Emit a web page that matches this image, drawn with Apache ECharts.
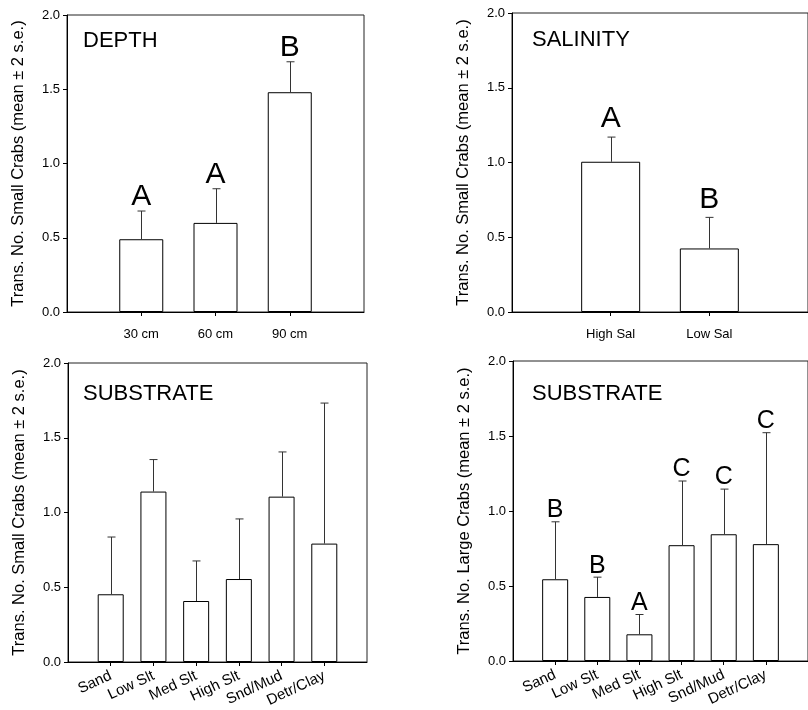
<!DOCTYPE html>
<html>
<head>
    <meta charset="utf-8">
    <title>Crab transects</title>
    <script src="https://cdn.jsdelivr.net/npm/echarts@6.0.0/dist/echarts.min.js"></script>
    <style>
        html, body { margin: 0; padding: 0; background: #fff; }
        #main { width: 808px; height: 710px; }
    </style>
</head>
<body>
    <div id="main"></div>
    <script type="text/javascript">
        // data
        var depthCats = ['30 cm', '60 cm', '90 cm'];
        var depthMean = [0.49, 0.60, 1.48];
        var depthErr = [0.68, 0.83, 1.685];
        var depthLetters = ['A', 'A', 'B'];

        var salCats = ['High Sal', 'Low Sal'];
        var salMean = [1.005, 0.425];
        var salErr = [1.17, 0.633];
        var salLetters = ['A', 'B'];

        var subCats = ['Sand', 'Low Slt', 'Med Slt', 'High Slt', 'Snd/Mud', 'Detr/Clay'];
        var smallMean = [0.453, 1.14, 0.408, 0.555, 1.106, 0.792];
        var smallErr = [0.836, 1.354, 0.676, 0.957, 1.405, 1.732];

        var largeMean = [0.545, 0.427, 0.178, 0.772, 0.845, 0.779];
        var largeErr = [0.928, 0.559, 0.31, 1.20, 1.146, 1.522];
        var largeLetters = ['B', 'B', 'A', 'C', 'C', 'C'];

        var yTicks = [0, 0.5, 1.0, 1.5, 2.0];

        var FONT = 'Liberation Sans, Arial, sans-serif';

        // layout of the four panels
        var panels = [
            { cats: depthCats, mean: depthMean, err: depthErr, letters: depthLetters,
              left: 67, top: 15, width: 297, height: 297, barWidth: 44, letterSize: 30, letterGap: 1,
              title: 'DEPTH', titleLeft: 83, titleTop: 30, rotate: 0, margin: 16, labelSize: 13,
              yName: 'Trans. No. Small Crabs (mean \u00b1 2 s.e.)' },
            { cats: salCats, mean: salMean, err: salErr, letters: salLetters,
              left: 512, top: 13, width: 300, height: 299, barWidth: 59, letterSize: 30, letterGap: 5,
              title: 'SALINITY', titleLeft: 532, titleTop: 29, rotate: 0, margin: 16, labelSize: 13,
              yName: 'Trans. No. Small Crabs (mean \u00b1 2 s.e.)' },
            { cats: subCats, mean: smallMean, err: smallErr, letters: null,
              left: 68, top: 363, width: 299, height: 299, barWidth: 26, letterSize: 24, letterGap: 1,
              title: 'SUBSTRATE', titleLeft: 83, titleTop: 383, rotate: 25, margin: 13, labelSize: 15,
              yName: 'Trans. No. Small Crabs (mean \u00b1 2 s.e.)' },
            { cats: subCats, mean: largeMean, err: largeErr, letters: largeLetters,
              left: 513, top: 361, width: 299, height: 300, barWidth: 26, letterSize: 25, letterGap: 1,
              title: 'SUBSTRATE', titleLeft: 532, titleTop: 383, rotate: 25, margin: 13, labelSize: 15,
              yName: 'Trans. No. Large Crabs (mean \u00b1 2 s.e.)' }
        ];

        function errRenderer(letters, size, gap) {
            return function (params, api) {
                var i = params.dataIndex;
                var base = api.coord([api.value(0), api.value(1)]);
                var top = api.coord([api.value(0), api.value(2)]);
                var x = Math.round(top[0]) + 0.5;
                var children = [
                    { type: 'line', shape: { x1: x, y1: base[1], x2: x, y2: top[1] },
                      style: { stroke: '#333', lineWidth: 1 } },
                    { type: 'line', shape: { x1: x - 4, y1: top[1], x2: x + 4, y2: top[1] },
                      style: { stroke: '#333', lineWidth: 1 } }
                ];
                if (letters) {
                    children.push({
                        type: 'text', x: top[0], y: top[1] + 2 - gap,
                        style: { text: letters[i], font: size + 'px ' + FONT, fill: '#000',
                                 align: 'center', verticalAlign: 'bottom',
                                 textAlign: 'center', textVerticalAlign: 'bottom' }
                    });
                }
                return { type: 'group', children: children };
            };
        }

        var grids = [], xAxes = [], yAxes = [], series = [], titles = [];

        panels.forEach(function (p, k) {
            var cats = p.cats;
            var pos = cats.map(function (c, i) { return i + 1; });
            grids.push({
                left: p.left, top: p.top, width: p.width, height: p.height,
                show: true, borderColor: '#222', borderWidth: 1, backgroundColor: 'transparent'
            });
            xAxes.push({
                gridIndex: k, type: 'value', min: 0, max: cats.length + 1, interval: 1,
                splitLine: { show: false },
                axisLine: { lineStyle: { color: '#000', width: 1 } },
                axisTick: { length: 4, lineStyle: { color: '#000' }, customValues: pos },
                axisLabel: {
                    customValues: pos,
                    formatter: function (v) { return cats[v - 1] || ''; },
                    rotate: p.rotate, margin: p.margin,
                    color: '#000', fontSize: p.labelSize, fontFamily: FONT
                }
            });
            yAxes.push({
                gridIndex: k, type: 'value', min: yTicks[0], max: yTicks[yTicks.length - 1],
                interval: yTicks[1] - yTicks[0],
                splitLine: { show: false },
                axisLine: { show: true, lineStyle: { color: '#000', width: 1 } },
                axisTick: { show: true, length: 4, lineStyle: { color: '#000' } },
                axisLabel: { color: '#000', fontSize: 13, fontFamily: FONT, margin: 7,
                             formatter: function (v) { return v.toFixed(1); } },
                name: p.yName, nameLocation: 'middle', nameGap: 40,
                nameTextStyle: { color: '#000', fontSize: 16.5, fontFamily: FONT }
            });
            series.push({
                type: 'bar', xAxisIndex: k, yAxisIndex: k,
                barWidth: p.barWidth,
                itemStyle: { color: '#fff', borderColor: '#000', borderWidth: 1 },
                data: p.mean.map(function (m, i) { return [i + 1, m]; }),
                silent: true
            });
            series.push({
                type: 'custom', xAxisIndex: k, yAxisIndex: k,
                renderItem: errRenderer(p.letters, p.letterSize, p.letterGap),
                encode: { x: 0, y: [1, 2] },
                data: p.mean.map(function (m, i) { return [i + 1, m, p.err[i]]; }),
                z: 3, silent: true
            });
            titles.push({
                text: p.title, left: p.titleLeft, top: p.titleTop, padding: 0,
                textStyle: { color: '#000', fontSize: 22, fontWeight: 'normal', fontFamily: FONT }
            });
        });

        var chart = echarts.init(document.getElementById('main'));
        chart.setOption({
            animation: false,
            backgroundColor: '#fff',
            title: titles,
            grid: grids,
            xAxis: xAxes,
            yAxis: yAxes,
            series: series
        });
    </script>
</body>
</html>
